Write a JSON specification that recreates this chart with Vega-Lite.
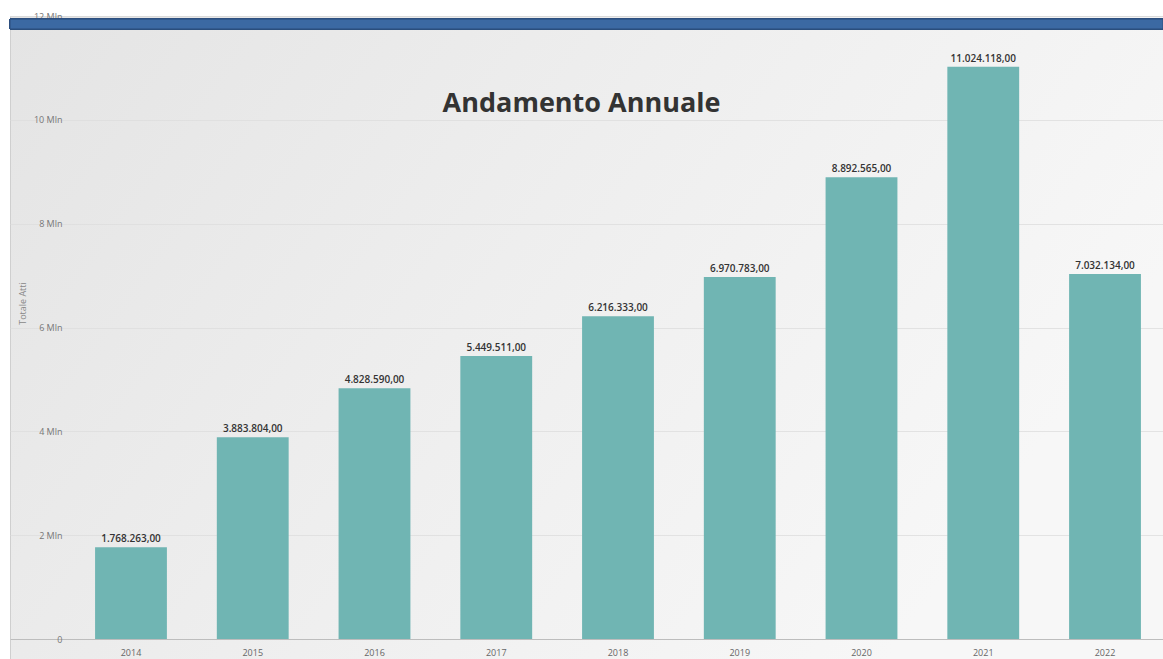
{
  "$schema": "https://vega.github.io/schema/vega-lite/v6.json",
  "autosize": {"type": "none"},
  "padding": {"left": 10, "top": 16, "right": 0, "bottom": 0},
  "width": 1153,
  "height": 643,
  "background": "white",
  "title": {"text": "Andamento Annuale", "anchor": "middle", "offset": -127, "dx": -5, "baseline": "alphabetic", "fontSize": 27, "font": "Open Sans", "fontWeight": "bold", "color": "#333333"},
  "data": {"values": [
    {"anno": "2014", "atti": 1768263},
    {"anno": "2015", "atti": 3883804},
    {"anno": "2016", "atti": 4828590},
    {"anno": "2017", "atti": 5449511},
    {"anno": "2018", "atti": 6216333},
    {"anno": "2019", "atti": 6970783},
    {"anno": "2020", "atti": 8892565},
    {"anno": "2021", "atti": 11024118},
    {"anno": "2022", "atti": 7032134}
  ]},
  "layer": [
    {
      "mark": {"type": "bar", "color": "#70b5b3"},
      "encoding": {
        "x": {"field": "anno", "type": "nominal", "sort": null,
          "scale": {"paddingInner": 0.41, "paddingOuter": 0.44, "align": 0.794},
          "axis": {"title": null, "orient": "bottom", "offset": -20, "labelAngle": 0, "ticks": false, "labelPadding": 9, "labelFontSize": 9, "labelFont": "Open Sans", "labelColor": "#666666", "domainColor": "#bdbdbd", "domainWidth": 1.2}},
        "y": {"field": "atti", "type": "quantitative",
          "scale": {"domain": [-385000, 12000000], "nice": false, "zero": false},
          "axis": {"title": "Totale Atti", "offset": -60, "values": [0, 2000000, 4000000, 6000000, 8000000, 10000000, 12000000],
            "labelExpr": "datum.value == 0 ? '0' : (datum.value / 1000000) + ' Mln'",
            "labelFontSize": 9, "labelFont": "Open Sans", "labelColor": "#777777", "labelPadding": 8, "ticks": false, "domain": false,
            "grid": true, "gridColor": "#dddddd", "gridWidth": 0.8,
            "titleFontSize": 9, "titleFont": "Open Sans", "titleFontWeight": "normal", "titleColor": "#888888",
            "titleX": -48, "titleY": 287, "titleAngle": -90, "titleAlign": "center", "titleBaseline": "middle"}},
        "y2": {"datum": 0}
      }
    },
    {
      "mark": {"type": "text", "baseline": "bottom", "dy": -3, "fontSize": 10, "font": "Open Sans", "fontWeight": 600, "color": "#333333"},
      "encoding": {
        "x": {"field": "anno", "type": "nominal", "sort": null},
        "y": {"field": "atti", "type": "quantitative"},
        "text": {"field": "atti", "type": "quantitative", "format": ",.2f"}
      }
    },
    {
      "mark": {"type": "rect", "color": "#3b69a3", "stroke": "#2c4f7e", "strokeWidth": 1},
      "encoding": {
        "y": {"datum": 11940000},
        "y2": {"datum": 11750000}
      }
    }
  ],
  "config": {
    "locale": {"number": {"decimal": ",", "thousands": ".", "grouping": [3], "currency": ["€", ""]}},
    "view": {
      "fill": {"gradient": "linear", "x1": 0, "y1": 0, "x2": 1, "y2": 0.4, "stops": [
        {"offset": 0, "color": "#e4e4e4"},
        {"offset": 0.5, "color": "#eeeeee"},
        {"offset": 1, "color": "#f7f7f7"}
      ]},
      "stroke": "#cfcfcf",
      "strokeWidth": 1
    }
  }
}
